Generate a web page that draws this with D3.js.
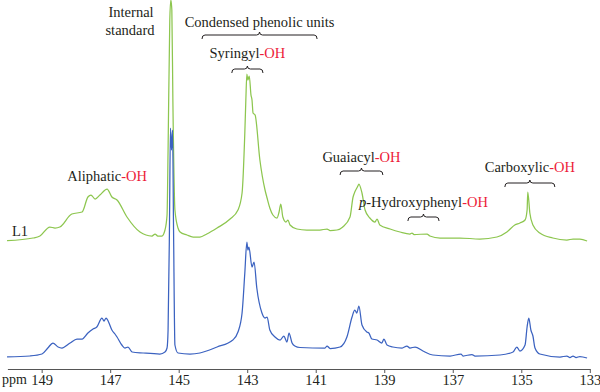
<!DOCTYPE html>
<html>
<head>
<meta charset="utf-8">
<script src="https://cdn.jsdelivr.net/npm/d3@7"></script>
<style>
  body { margin: 0; background: #fff; }
</style>
</head>
<body>
<svg class="svg-main" width="600" height="392"></svg>
<script>
// ppm ticks
const ticks = [149, 147, 145, 143, 141, 139, 137, 135, 133];

// L1 spectrum: [ppm, intensity]
const L1 = [
  [150.01, 0.3], [149.25, 3], [149.05, 5], [148.76, 14], [148.61, 13], [148.47, 14],
  [148.12, 27], [147.82, 29], [147.65, 44], [147.56, 46], [147.44, 42], [147.30, 46],
  [147.09, 52], [146.95, 44], [146.80, 41], [146.51, 24], [146.13, 9], [145.78, 5],
  [145.69, 7], [145.61, 5], [145.49, 5], [145.40, 11], [145.34, 26], [145.31, 91],
  [145.26, 221], [145.23, 241], [145.20, 231], [145.17, 141], [145.11, 31], [145.02, 13],
  [144.96, 9], [144.76, 6], [144.58, 4], [144.38, 4], [144.18, 7], [143.88, 13],
  [143.50, 22], [143.27, 31], [143.15, 48], [143.07, 108], [143.04, 141], [143.01, 167],
  [142.98, 161], [142.94, 165], [142.89, 146], [142.86, 141], [142.83, 128], [142.77, 126],
  [142.63, 81], [142.48, 51], [142.42, 43], [142.34, 33], [142.25, 26], [142.13, 23],
  [142.07, 29], [142.02, 37], [141.96, 24], [141.87, 19], [141.81, 21], [141.75, 16],
  [141.55, 12], [141.26, 11], [140.88, 11], [140.67, 12], [140.58, 10.5], [140.38, 11],
  [140.21, 14], [140.00, 24], [139.91, 44], [139.86, 49], [139.80, 53], [139.77, 55],
  [139.74, 57], [139.65, 48], [139.56, 31], [139.42, 23], [139.27, 19], [139.21, 22],
  [139.13, 16], [138.83, 12], [138.54, 9], [138.25, 7], [138.19, 8], [138.13, 6.5],
  [137.75, 7], [137.67, 5], [137.37, 3], [136.79, 3], [136.21, 2], [135.71, 4],
  [135.42, 9], [135.19, 16], [135.04, 18], [134.89, 21], [134.83, 31], [134.81, 49],
  [134.75, 28], [134.66, 16], [134.46, 8], [134.08, 3], [133.67, 1], [133.49, 2],
  [133.29, 2], [133.08, 0]
];

// L2 spectrum: [ppm, intensity]
const L2 = [
  [150.01, 1], [149.34, 2], [148.99, 4], [148.82, 10], [148.67, 15], [148.52, 11],
  [148.41, 10], [148.17, 15], [147.97, 19], [147.82, 19], [147.65, 25], [147.50, 29],
  [147.39, 31], [147.24, 40], [147.18, 37], [147.12, 40], [147.06, 37], [146.95, 28],
  [146.86, 24], [146.80, 21], [146.66, 13], [146.57, 10], [146.48, 11], [146.36, 6],
  [146.04, 5], [145.55, 4], [145.40, 6], [145.34, 10], [145.31, 28], [145.27, 128],
  [145.24, 230], [145.21, 208], [145.18, 228], [145.15, 128], [145.11, 13], [145.02, 5],
  [144.67, 4], [144.38, 5], [143.88, 11], [143.42, 18], [143.27, 26], [143.15, 45],
  [143.07, 85], [143.01, 116], [142.98, 108], [142.95, 111], [142.86, 91], [142.80, 96],
  [142.72, 70], [142.57, 45], [142.48, 40], [142.42, 41], [142.34, 28], [142.19, 21],
  [142.04, 18], [141.93, 22], [141.84, 16], [141.78, 25], [141.69, 15], [141.61, 12],
  [141.46, 10.5], [140.73, 10], [140.67, 12], [140.58, 9.5], [140.29, 11], [140.09, 21],
  [139.94, 41], [139.86, 48], [139.80, 45], [139.74, 52], [139.65, 33], [139.51, 26],
  [139.45, 25], [139.36, 19], [139.21, 18], [139.07, 15], [139.01, 19], [138.92, 13],
  [138.75, 11], [138.48, 10], [138.34, 12], [138.25, 10], [138.10, 11], [137.87, 7],
  [137.58, 3], [137.08, 2], [136.76, 4], [136.70, 2], [136.44, 3.5], [136.35, 2],
  [135.62, 3], [135.24, 6], [135.13, 11], [135.04, 7], [134.89, 13], [134.83, 31],
  [134.78, 40], [134.72, 28], [134.66, 22], [134.60, 10], [134.46, 4], [133.87, 1],
  [133.67, 2], [133.58, 0.5], [133.49, 2], [133.40, 0.5], [133.29, 1.5], [133.08, 0]
];

// region labels and brace ranges in ppm
const regions = [
  { name: "Condensed phenolic units", oh: "", from: 144.32, to: 140.96, ty: 27, by: 35 },
  { name: "Syringyl", oh: "-OH", from: 143.45, to: 142.54, ty: 58, by: 69 },
  { name: "Aliphatic", oh: "-OH", from: 147.09, to: null, ty: 181, by: null },
  { name: "Guaiacyl", oh: "-OH", from: 140.29, to: 139.04, ty: 162, by: 171 },
  { name: "Hydroxyphenyl", oh: "-OH", italic: "p", from: 138.31, to: 137.40, ty: 207, by: 217 },
  { name: "Carboxylic", oh: "-OH", from: 135.48, to: 134.02, ty: 172, by: 183 }
];

const traces = [
  { id: "L1", data: L1, color: "#8dc64f", offset: 0, labelY: 236 },
  { id: "L2", data: L2, color: "#3b62c0", offset: 117, labelY: 352 }
];

const FONT = "Liberation Serif";
const INK = "#231f20";
const FS = 14.5;

const svg = d3.select(".svg-main")
  .attr("font-family", FONT);

const x = d3.scaleLinear().domain([150, 133]).range([7.4, 589.8]);
const y = d3.scaleLinear().domain([0, 241]).range([241, 0]);

const line = d3.line()
  .x(d => x(d[0]))
  .y(d => y(d[1]))
  .curve(d3.curveMonotoneX);

const traceG = svg.append("g").selectAll("g")
  .data(traces)
  .enter().append("g")
    .attr("transform", d => `translate(0,${d.offset})`);

traceG.append("path")
  .attr("d", d => line(d.data))
  .attr("fill", "none")
  .attr("stroke", d => d.color)
  .attr("stroke-width", 1.25)
  .attr("stroke-linejoin", "round");

traceG.append("text")
  .attr("x", 12)
  .attr("y", d => d.labelY)
  .attr("font-family", FONT)
  .attr("font-size", FS)
  .attr("fill", INK)
  .text(d => d.id);

// axis
const axis = svg.append("g")
  .attr("transform", "translate(0,369)")
  .call(d3.axisBottom(x).tickValues(ticks).tickFormat(d3.format("d"))
    .tickSizeInner(4).tickSizeOuter(0).tickPadding(2));
axis.attr("font-family", FONT);
axis.select(".domain").attr("stroke", "#555");
axis.selectAll(".tick line").attr("stroke", "#555");
axis.selectAll(".tick text")
  .attr("font-size", FS)
  .attr("font-family", FONT)
  .attr("fill", INK);

svg.append("text")
  .attr("x", 2)
  .attr("y", 383.5)
  .attr("font-family", FONT)
  .attr("font-size", 14)
  .attr("fill", INK)
  .text("ppm");

// internal standard
const std = svg.append("text")
  .attr("font-family", FONT)
  .attr("font-size", FS)
  .attr("fill", INK)
  .attr("text-anchor", "middle");
std.append("tspan").attr("x", x(146.39)).attr("y", 17).text("Internal");
std.append("tspan").attr("x", x(146.42)).attr("y", 35).text("standard");

// braces, opening downwards with centre cusp up
function brace(x1, x2, yb) {
  const xm = (x1 + x2) / 2, r = 3;
  return `M${x1},${yb + 4} Q${x1},${yb} ${x1 + r},${yb} L${xm - r},${yb} ` +
    `Q${xm},${yb} ${xm},${yb - r} Q${xm},${yb} ${xm + r},${yb} ` +
    `L${x2 - r},${yb} Q${x2},${yb} ${x2},${yb + 4}`;
}

regions.forEach(r => {
  const cx = r.to == null ? x(r.from) : (x(r.from) + x(r.to)) / 2;
  const t = svg.append("text")
    .attr("x", cx)
    .attr("y", r.ty)
    .attr("font-family", FONT)
    .attr("font-size", FS)
    .attr("fill", INK)
    .attr("text-anchor", "middle");
  if (r.italic) t.append("tspan").attr("font-style", "italic").text(r.italic);
  t.append("tspan").text((r.italic ? "-" : "") + r.name);
  if (r.oh) t.append("tspan").attr("fill", "#ed1c3a").text(r.oh);
  if (r.to != null) {
    svg.append("path")
      .attr("d", brace(x(r.from), x(r.to), r.by))
      .attr("fill", "none")
      .attr("stroke", INK)
      .attr("stroke-width", 1);
  }
});
</script>
</body>
</html>
